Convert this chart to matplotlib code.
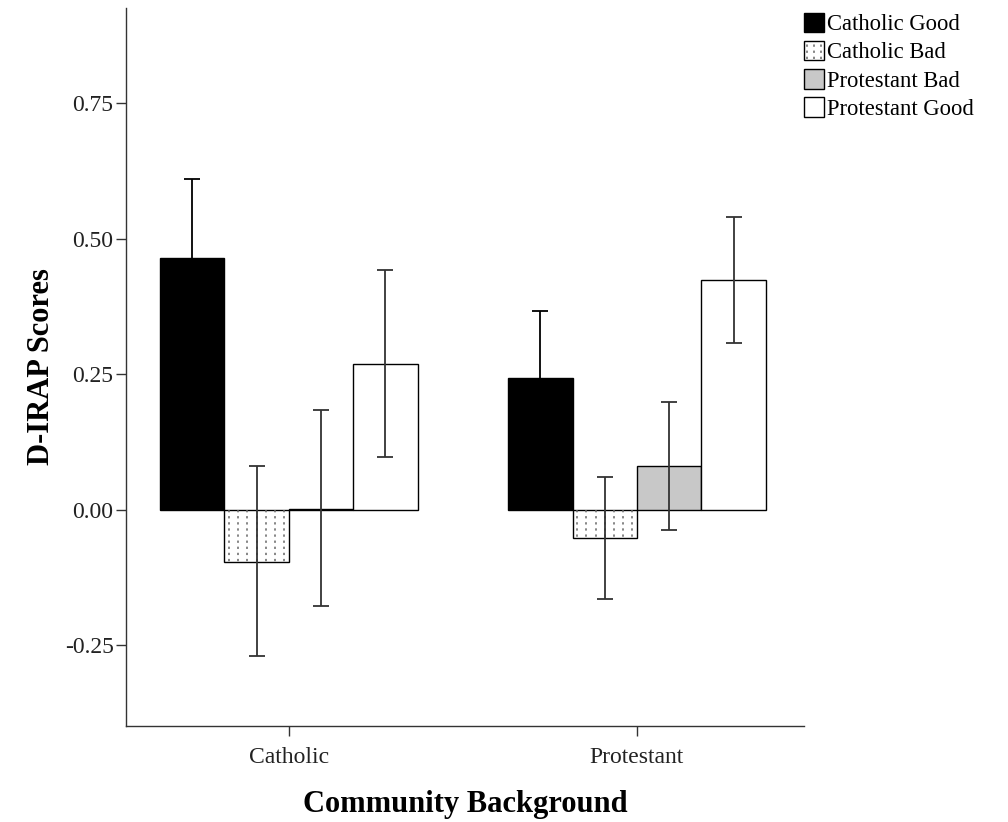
import numpy as np
import matplotlib.pyplot as plt
from matplotlib.patches import Rectangle
from matplotlib.legend_handler import HandlerPatch

plt.rcParams['font.family'] = ['Liberation Serif', 'DejaVu Serif']

groups = ['Catholic', 'Protestant']
series = ['Catholic Good', 'Catholic Bad', 'Protestant Bad', 'Protestant Good']

# mean D-IRAP scores, one list per series (Catholic, Protestant groups)
catholic_good = [0.465, 0.244]
catholic_bad = [-0.096, -0.052]
protestant_bad = [0.002, 0.081]
protestant_good = [0.269, 0.424]

# error bar ends (upper, lower)
upper = [[0.611, 0.367], [0.081, 0.061], [0.185, 0.199], [0.443, 0.541]]
lower = [[0.319, 0.121], [-0.269, -0.164], [-0.177, -0.037], [0.098, 0.308]]

means = [catholic_good, catholic_bad, protestant_bad, protestant_good]
colors = ['black', 'white', '#c8c8c8', 'white']
err_colors = ['black', '#333333', '#333333', '#333333']
dotted = [False, True, False, False]


def dotted_lines(ax, patch, n=7):
    # vertical dotted lines clipped to the bar, like the SPSS fill pattern
    x0, y0 = patch.get_x(), patch.get_y()
    w, h = patch.get_width(), patch.get_height()
    xs = x0 + w * (np.arange(n) + 0.5) / n
    lines = ax.vlines(xs, y0, y0 + h, colors='#666666', linewidth=1.1,
                      linestyles=(0, (1.5, 2.5)), zorder=2.1)
    lines.set_clip_path(patch)


class DottedHandler(HandlerPatch):
    def create_artists(self, legend, orig_handle, xdescent, ydescent,
                       width, height, fontsize, trans):
        r = Rectangle((-xdescent, -ydescent), width, height, facecolor='white',
                      edgecolor='black', linewidth=1.0, transform=trans)
        arts = [r]
        for k in range(3):
            xx = -xdescent + width * (k + 0.5) / 3
            ln = plt.Line2D([xx, xx], [-ydescent + 1, -ydescent + height - 1],
                            color='#666666', linewidth=1.1,
                            linestyle=(0, (1.5, 2.5)), transform=trans)
            arts.append(ln)
        return arts


fig = plt.figure(figsize=(10.08, 8.22), dpi=100)
ax = fig.add_axes([0.125, 0.1168, 0.6726, 0.8735])

x = np.arange(len(groups))
w = 0.185
handles = []
for i, name in enumerate(series):
    pos = x + (i - 1.5) * w
    m = np.array(means[i])
    b = ax.bar(pos, m, width=w, color=colors[i], edgecolor='black',
               linewidth=1.0, label=name, zorder=2)
    handles.append(b.patches[0])
    if dotted[i]:
        for p in b.patches:
            dotted_lines(ax, p)
    err = [m - np.array(lower[i]), np.array(upper[i]) - m]
    ax.errorbar(pos, m, yerr=err, fmt='none', ecolor=err_colors[i],
                elinewidth=1.3, capsize=6, capthick=1.3, zorder=3)

ax.set_xlim(-0.468, 1.48)
ax.set_ylim(-0.3985, 0.926)
ax.set_yticks([-0.25, 0.0, 0.25, 0.5, 0.75])
ax.set_yticklabels(['-0.25', '0.00', '0.25', '0.50', '0.75'])
ax.set_xticks(x)
ax.set_xticklabels(groups)
ax.tick_params(axis='both', labelsize=17, length=7, width=1, color='#333333',
               labelcolor='#222222')
ax.tick_params(axis='y', pad=2)
ax.tick_params(axis='x', pad=8)
ax.spines['top'].set_visible(False)
ax.spines['right'].set_visible(False)
for s in ['left', 'bottom']:
    ax.spines[s].set_color('#333333')
    ax.spines[s].set_linewidth(1)

ax.set_ylabel('D-IRAP Scores', fontsize=22, fontweight='bold', labelpad=6)
ax.set_xlabel('Community Background', fontsize=22, fontweight='bold', labelpad=16)

ax.legend(handles=handles, labels=series, loc='upper left',
          bbox_to_anchor=(0.986, 1.006), frameon=False, fontsize=16.3,
          handlelength=0.9, handleheight=0.95, handletextpad=0.15,
          labelspacing=0.25, borderaxespad=0,
          handler_map={handles[1]: DottedHandler()})

fig.savefig('out.png', dpi=100)
